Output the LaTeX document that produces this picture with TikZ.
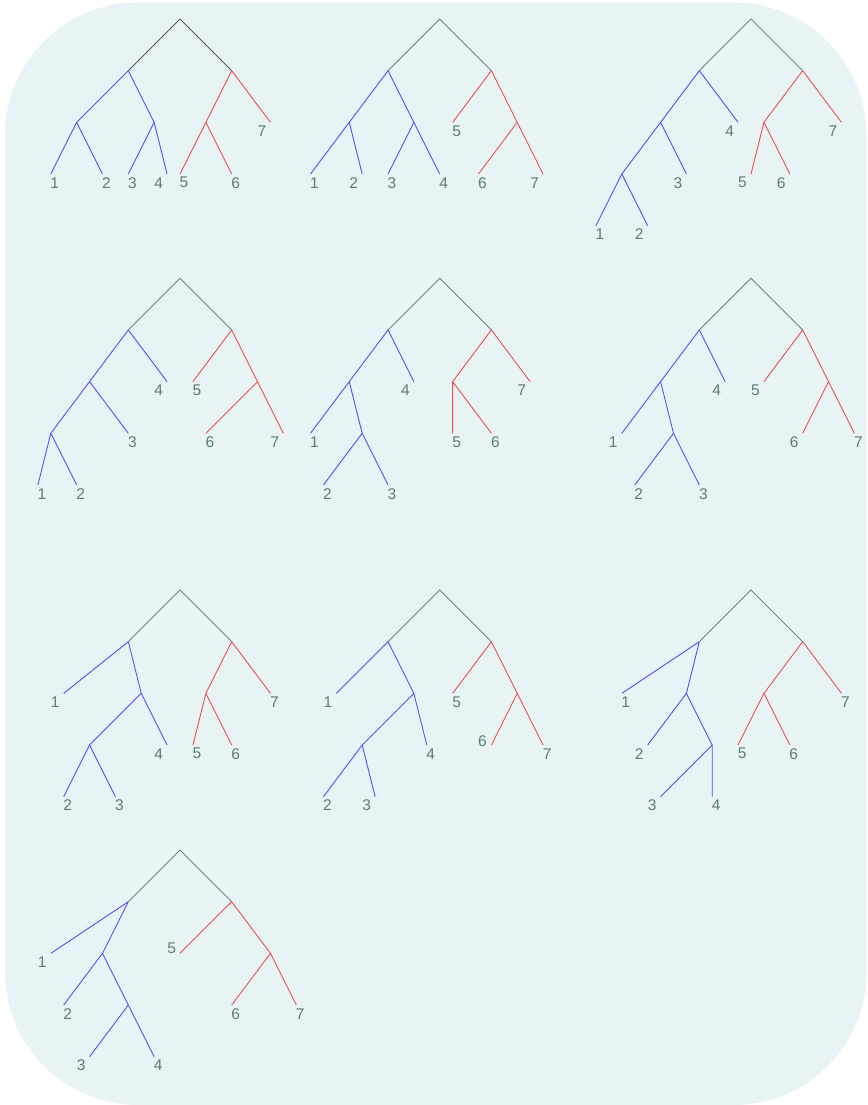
\documentclass[tikz,border=0pt]{standalone}
\usepackage{fontspec}
\setmainfont{Liberation Sans}
\definecolor{bgc}{HTML}{E7F3F5}
\definecolor{blc}{HTML}{5050FF}
\definecolor{rdc}{HTML}{EE5050}
\definecolor{gyc}{HTML}{6B8582}
\definecolor{dkc}{HTML}{505858}
\definecolor{lbc}{HTML}{5E7C78}
\tikzset{
  lbl/.style={inner sep=0pt, text=lbc, font=\fontsize{15.5}{18}\selectfont},
  rootedge/.style={draw=gyc, line width=0.9pt},
  rootdark/.style={draw=dkc, line width=0.9pt},
  bl/.style={draw=blc, line width=0.9pt},
  rd/.style={draw=rdc, line width=0.9pt},
  tree/.style={x=12.92pt, y=-51.67pt}
}
\newcommand{\lf}[6]{\coordinate (#1) at (#2,#3);
  \node[lbl] (#1t) at ([shift={(#5pt,#6pt)}]#1) {#4};}
\newcommand{\lfr}[4]{\lf{#1}{#2}{#3}{#4}{4}{-8.7}}
\newcommand{\lfl}[4]{\lf{#1}{#2}{#3}{#4}{-8.5}{-8.7}}
\begin{document}
\begin{tikzpicture}
\useasboundingbox (0pt,0pt) rectangle (867pt,-1105pt);
\fill[bgc, rounded corners=133pt] (5pt,-2.5pt) rectangle (866.5pt,-1105pt);
% ---------- tree 1
\begin{scope}[shift={(180pt,-19pt)}, tree]
\coordinate (t1r) at (0,0); \coordinate (t1L) at (-4,1); \coordinate (t1R) at (4,1);
\coordinate (t1a) at (-8,2); \coordinate (t1b) at (-2,2); \coordinate (t1c) at (2,2);
\lfr{t1x1}{-10}{3}{1} \lfr{t1x2}{-6}{3}{2} \lfr{t1x3}{-4}{3}{3} \lfl{t1x4}{-1}{3}{4}
\lfr{t1x5}{0}{3}{5} \lfr{t1x6}{4}{3}{6} \lfl{t1x7}{7}{2}{7}
\draw[rootdark] (t1L) -- (t1r) -- (t1R);
\draw[bl] (t1L) -- (t1a) (t1L) -- (t1b) (t1a) -- (t1x1) (t1a) -- (t1x2) (t1b) -- (t1x3) (t1b) -- (t1x4);
\draw[rd] (t1R) -- (t1c) (t1R) -- (t1x7) (t1c) -- (t1x5) (t1c) -- (t1x6);
\end{scope}
% ---------- tree 2
\begin{scope}[shift={(439.7pt,-19pt)}, tree]
\coordinate (t2r) at (0,0); \coordinate (t2L) at (-4,1); \coordinate (t2R) at (4,1);
\coordinate (t2a) at (-7,2); \coordinate (t2b) at (-2,2); \coordinate (t2c) at (6,2);
\lfr{t2x1}{-10}{3}{1} \lfl{t2x2}{-6}{3}{2} \lfr{t2x3}{-4}{3}{3} \lfr{t2x4}{0}{3}{4}
\lfr{t2x5}{1}{2}{5} \lfr{t2x6}{3}{3}{6} \lfl{t2x7}{8}{3}{7}
\draw[rootedge] (t2L) -- (t2r) -- (t2R);
\draw[bl] (t2L) -- (t2a) (t2L) -- (t2b) (t2a) -- (t2x1) (t2a) -- (t2x2) (t2b) -- (t2x3) (t2b) -- (t2x4);
\draw[rd] (t2R) -- (t2x5) (t2R) -- (t2c) (t2c) -- (t2x6) (t2c) -- (t2x7);
\end{scope}
% ---------- tree 3
\begin{scope}[shift={(751pt,-19pt)}, tree]
\coordinate (t3r) at (0,0); \coordinate (t3L) at (-4,1); \coordinate (t3R) at (4,1);
\coordinate (t3a) at (-7,2); \coordinate (t3b) at (-10,3); \coordinate (t3c) at (1,2);
\lfr{t3x1}{-12}{4}{1} \lfl{t3x2}{-8}{4}{2} \lfl{t3x3}{-5}{3}{3} \lfl{t3x4}{-1}{2}{4}
\lfl{t3x5}{0}{3}{5} \lfl{t3x6}{3}{3}{6} \lfl{t3x7}{7}{2}{7}
\draw[rootedge] (t3L) -- (t3r) -- (t3R);
\draw[bl] (t3L) -- (t3a) (t3L) -- (t3x4) (t3a) -- (t3b) (t3a) -- (t3x3) (t3b) -- (t3x1) (t3b) -- (t3x2);
\draw[rd] (t3R) -- (t3c) (t3R) -- (t3x7) (t3c) -- (t3x5) (t3c) -- (t3x6);
\end{scope}
% ---------- tree 4
\begin{scope}[shift={(180pt,-278.3pt)}, tree]
\coordinate (t4r) at (0,0); \coordinate (t4L) at (-4,1); \coordinate (t4R) at (4,1);
\coordinate (t4a) at (-7,2); \coordinate (t4b) at (-10,3); \coordinate (t4c) at (6,2);
\lfr{t4x1}{-11}{4}{1} \lfr{t4x2}{-8}{4}{2} \lfr{t4x3}{-4}{3}{3} \lfl{t4x4}{-1}{2}{4}
\lfr{t4x5}{1}{2}{5} \lfr{t4x6}{2}{3}{6} \lfl{t4x7}{8}{3}{7}
\draw[rootedge] (t4L) -- (t4r) -- (t4R);
\draw[bl] (t4L) -- (t4a) (t4L) -- (t4x4) (t4a) -- (t4b) (t4a) -- (t4x3) (t4b) -- (t4x1) (t4b) -- (t4x2);
\draw[rd] (t4R) -- (t4x5) (t4R) -- (t4c) (t4c) -- (t4x6) (t4c) -- (t4x7);
\end{scope}
% ---------- tree 5
\begin{scope}[shift={(439.7pt,-278.3pt)}, tree]
\coordinate (t5r) at (0,0); \coordinate (t5L) at (-4,1); \coordinate (t5R) at (4,1);
\coordinate (t5a) at (-7,2); \coordinate (t5b) at (-6,3); \coordinate (t5c) at (1,2);
\lfr{t5x1}{-10}{3}{1} \lfr{t5x2}{-9}{4}{2} \lfr{t5x3}{-4}{4}{3} \lfl{t5x4}{-2}{2}{4}
\lfr{t5x5}{1}{3}{5} \lfr{t5x6}{4}{3}{6} \lfl{t5x7}{7}{2}{7}
\draw[rootedge] (t5L) -- (t5r) -- (t5R);
\draw[bl] (t5L) -- (t5a) (t5L) -- (t5x4) (t5a) -- (t5x1) (t5a) -- (t5b) (t5b) -- (t5x2) (t5b) -- (t5x3);
\draw[rd] (t5R) -- (t5c) (t5R) -- (t5x7) (t5c) -- (t5x5) (t5c) -- (t5x6);
\end{scope}
% ---------- tree 6
\begin{scope}[shift={(751pt,-278.3pt)}, tree]
\coordinate (t6r) at (0,0); \coordinate (t6L) at (-4,1); \coordinate (t6R) at (4,1);
\coordinate (t6a) at (-7,2); \coordinate (t6b) at (-6,3); \coordinate (t6c) at (6,2);
\lfl{t6x1}{-10}{3}{1} \lfr{t6x2}{-9}{4}{2} \lfr{t6x3}{-4}{4}{3} \lfl{t6x4}{-2}{2}{4}
\lfl{t6x5}{1}{2}{5} \lfl{t6x6}{4}{3}{6} \lfr{t6x7}{8}{3}{7}
\draw[rootedge] (t6L) -- (t6r) -- (t6R);
\draw[bl] (t6L) -- (t6a) (t6L) -- (t6x4) (t6a) -- (t6x1) (t6a) -- (t6b) (t6b) -- (t6x2) (t6b) -- (t6x3);
\draw[rd] (t6R) -- (t6x5) (t6R) -- (t6c) (t6c) -- (t6x6) (t6c) -- (t6x7);
\end{scope}
% ---------- tree 7
\begin{scope}[shift={(180pt,-590pt)}, tree]
\coordinate (t7r) at (0,0); \coordinate (t7L) at (-4,1); \coordinate (t7R) at (4,1);
\coordinate (t7a) at (-3,2); \coordinate (t7b) at (-7,3); \coordinate (t7c) at (2,2);
\lfl{t7x1}{-9}{2}{1} \lfr{t7x2}{-9}{4}{2} \lfr{t7x3}{-5}{4}{3} \lfl{t7x4}{-1}{3}{4}
\lfr{t7x5}{1}{3}{5} \lfr{t7x6}{4}{3}{6} \lfr{t7x7}{7}{2}{7}
\draw[rootedge] (t7L) -- (t7r) -- (t7R);
\draw[bl] (t7L) -- (t7x1) (t7L) -- (t7a) (t7a) -- (t7b) (t7a) -- (t7x4) (t7b) -- (t7x2) (t7b) -- (t7x3);
\draw[rd] (t7R) -- (t7c) (t7R) -- (t7x7) (t7c) -- (t7x5) (t7c) -- (t7x6);
\end{scope}
% ---------- tree 8
\begin{scope}[shift={(439.7pt,-590pt)}, tree]
\coordinate (t8r) at (0,0); \coordinate (t8L) at (-4,1); \coordinate (t8R) at (4,1);
\coordinate (t8a) at (-2,2); \coordinate (t8b) at (-6,3); \coordinate (t8c) at (6,2);
\lfl{t8x1}{-8}{2}{1} \lfr{t8x2}{-9}{4}{2} \lfl{t8x3}{-5}{4}{3} \lfr{t8x4}{-1}{3}{4}
\lfr{t8x5}{1}{2}{5} \lf{t8x6}{4}{3}{6}{-9}{4.3} \lfr{t8x7}{8}{3}{7}
\draw[rootedge] (t8L) -- (t8r) -- (t8R);
\draw[bl] (t8L) -- (t8x1) (t8L) -- (t8a) (t8a) -- (t8b) (t8a) -- (t8x4) (t8b) -- (t8x2) (t8b) -- (t8x3);
\draw[rd] (t8R) -- (t8x5) (t8R) -- (t8c) (t8c) -- (t8x6) (t8c) -- (t8x7);
\end{scope}
% ---------- tree 9
\begin{scope}[shift={(751pt,-590pt)}, tree]
\coordinate (t9r) at (0,0); \coordinate (t9L) at (-4,1); \coordinate (t9R) at (4,1);
\coordinate (t9a) at (-5,2); \coordinate (t9b) at (-3,3); \coordinate (t9c) at (1,2);
\lfr{t9x1}{-10}{2}{1} \lfl{t9x2}{-8}{3}{2} \lfl{t9x3}{-7}{4}{3} \lfr{t9x4}{-3}{4}{4}
\lfr{t9x5}{-1}{3}{5} \lfr{t9x6}{3}{3}{6} \lfr{t9x7}{7}{2}{7}
\draw[rootedge] (t9L) -- (t9r) -- (t9R);
\draw[bl] (t9L) -- (t9x1) (t9L) -- (t9a) (t9a) -- (t9x2) (t9a) -- (t9b) (t9b) -- (t9x3) (t9b) -- (t9x4);
\draw[rd] (t9R) -- (t9c) (t9R) -- (t9x7) (t9c) -- (t9x5) (t9c) -- (t9x6);
\end{scope}
% ---------- tree 10
\begin{scope}[shift={(180pt,-850pt)}, tree]
\coordinate (tAr) at (0,0); \coordinate (tAL) at (-4,1); \coordinate (tAR) at (4,1);
\coordinate (tAa) at (-6,2); \coordinate (tAb) at (-4,3); \coordinate (tAc) at (7,2);
\lfl{tAx1}{-10}{2}{1} \lfr{tAx2}{-9}{3}{2} \lfl{tAx3}{-7}{4}{3} \lfr{tAx4}{-2}{4}{4}
\lf{tAx5}{0}{2}{5}{-8.3}{5} \lfr{tAx6}{4}{3}{6} \lfr{tAx7}{9}{3}{7}
\draw[rootedge] (tAL) -- (tAr) -- (tAR);
\draw[bl] (tAL) -- (tAx1) (tAL) -- (tAa) (tAa) -- (tAx2) (tAa) -- (tAb) (tAb) -- (tAx3) (tAb) -- (tAx4);
\draw[rd] (tAR) -- (tAx5) (tAR) -- (tAc) (tAc) -- (tAx6) (tAc) -- (tAx7);
\end{scope}
\end{tikzpicture}
\end{document}
